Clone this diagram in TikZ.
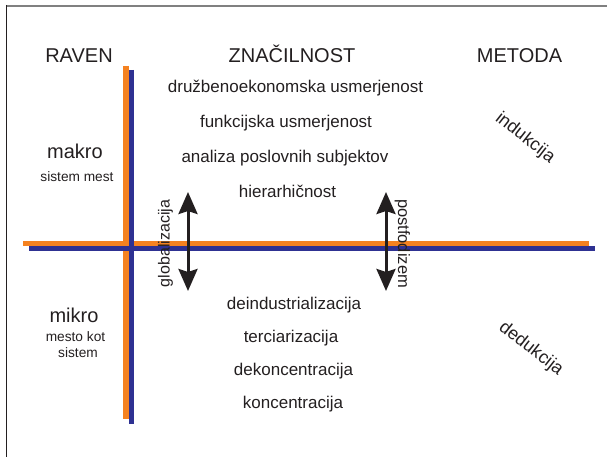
\documentclass[tikz,border=0pt]{standalone}
\usepackage{fontspec}
\setmainfont{Liberation Sans}
\usetikzlibrary{arrows.meta}
\definecolor{axorange}{HTML}{F58220}
\definecolor{axblue}{HTML}{2E3192}
\definecolor{ink}{HTML}{231F20}

\begin{document}
\begin{tikzpicture}[x=1pt,y=-1pt,
  hdr/.style={anchor=base,inner sep=0pt,text=ink,font=\fontsize{20}{24}\selectfont},
  entry/.style={anchor=base,inner sep=0pt,text=ink,font=\fontsize{17}{20}\selectfont},
  note/.style={anchor=base,inner sep=0pt,text=ink,font=\fontsize{13.7}{16}\selectfont},
  slanted/.style={inner sep=0pt,text=ink,rotate=-38,font=\fontsize{18}{21}\selectfont},
  axisline/.style={line width=5.5pt},
  dblarrow/.style={ink,line width=3pt,
    {Stealth[width=19pt,length=22pt,inset=3pt]}-{Stealth[width=19pt,length=22pt,inset=3pt]}}]
\useasboundingbox (0,0) rectangle (607,457);
% frame, top and left only
\draw [gray,line width=1.7pt] (6,5.7) -- (607,5.7);
\draw [ink,line width=1.8pt] (6.5,5) -- (6.5,457);
% axes
\coordinate (ot) at (126,66);
\coordinate (ob) at (126,419);
\coordinate (ol) at (23,243.5);
\coordinate (or) at (589,243.5);
\coordinate (bt) at (131.5,70);
\coordinate (bb) at (131.5,424);
\coordinate (bl) at (29,248.7);
\coordinate (br) at (595,248.7);
\draw [axisline,axorange] (ot) -- (ob);
\draw [axisline,axorange] (ol) -- (or);
\draw [axisline,axblue] (bt) -- (bb);
\draw [axisline,axblue] (bl) -- (br);
% headings
\node [hdr] (raven) at (79,63) {RAVEN};
\node [hdr] (znac) at (292,63) {ZNAČILNOST};
\node [hdr] (metoda) at (519.5,63) {METODA};
% level
\node [hdr] (makro) at (75,159) {makro};
\node [note] (makrosub) at (77,182) {sistem mest};
\node [hdr] (mikro) at (74,322) {mikro};
\node [note] (mikrosub1) at (75.5,341) {mesto kot};
\node [note] (mikrosub2) at (78,357) {sistem};
% features
\node [entry] (f1) at (295.5,92.5) {družbenoekonomska usmerjenost};
\node [entry] (f2) at (286,128) {funkcijska usmerjenost};
\node [entry] (f3) at (285,163) {analiza poslovnih subjektov};
\node [entry] (f4) at (287.5,197.5) {hierarhičnost};
\node [entry] (f5) at (294,309) {deindustrializacija};
\node [entry] (f6) at (291,342.5) {terciarizacija};
\node [entry] (f7) at (293.5,375) {dekoncentracija};
\node [entry] (f8) at (293,408.5) {koncentracija};
% method
\node [slanted] (ind) at (525,138) {indukcija};
\node [slanted] (ded) at (531,349) {dedukcija};
% arrows
\coordinate (gtop) at (188,192);
\coordinate (gbot) at (188,291);
\coordinate (ptop) at (386,192);
\coordinate (pbot) at (386,291);
\draw [dblarrow] (gtop) -- (gbot);
\draw [dblarrow] (ptop) -- (pbot);
\node [entry,rotate=90,font=\fontsize{16}{19}\selectfont] (glob) at (169.5,243.5) {globalizacija};
\node [entry,rotate=-90,font=\fontsize{16.5}{19}\selectfont] (postf) at (398,243.5) {postfodizem};
\end{tikzpicture}
\end{document}
